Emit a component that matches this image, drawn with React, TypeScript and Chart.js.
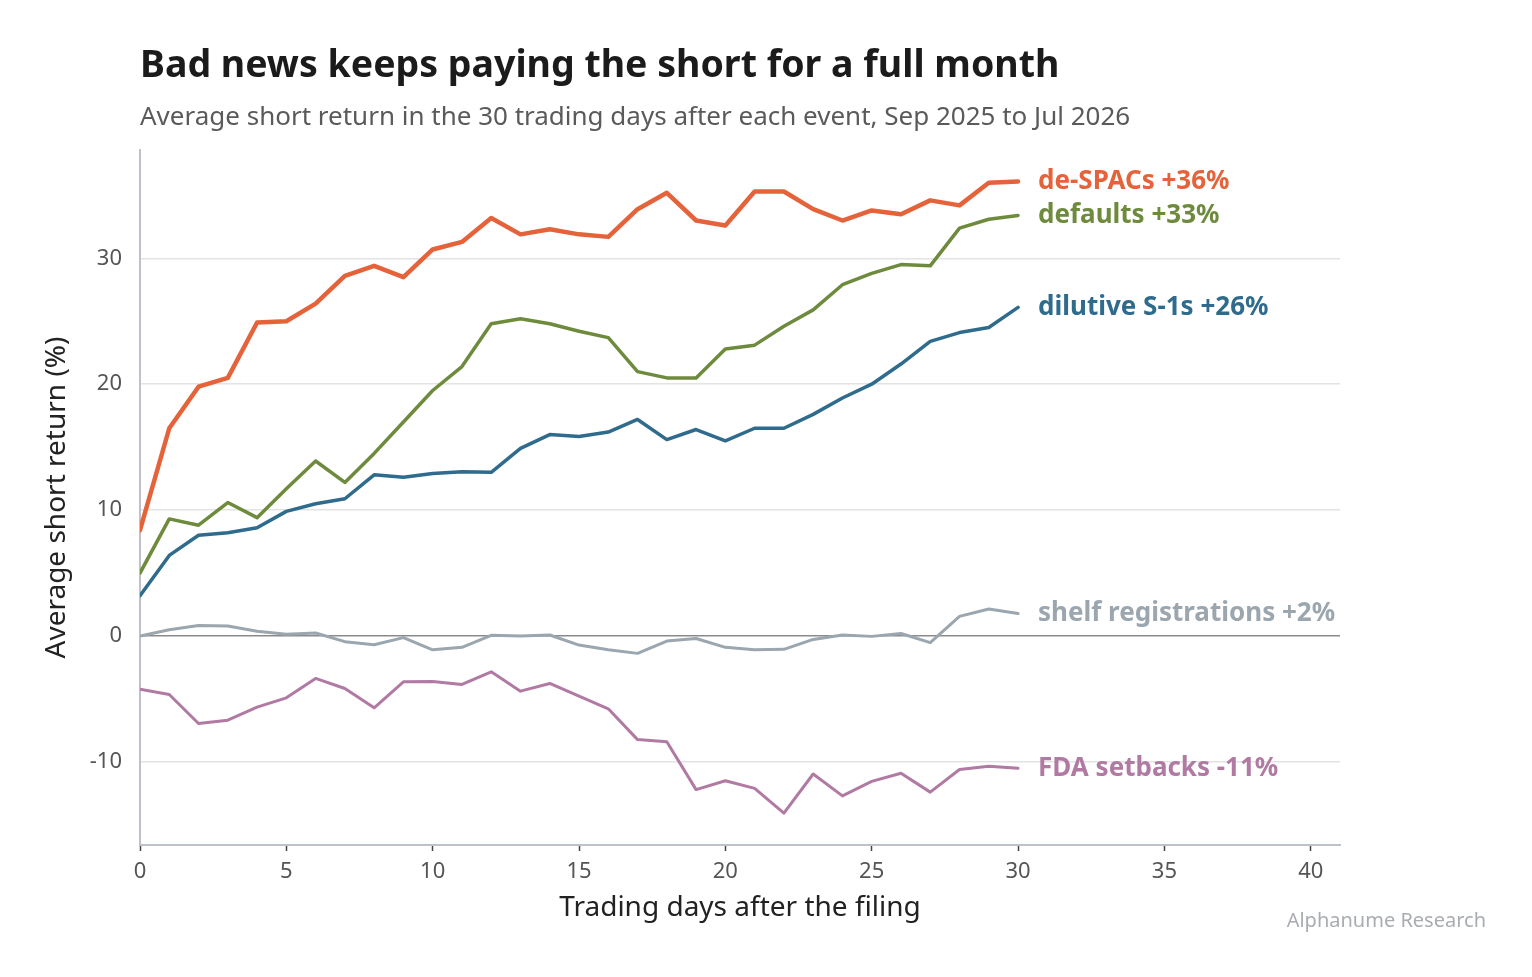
import { useEffect, useRef } from 'react';
import { Chart, registerables } from 'chart.js';

Chart.register(...registerables);

// trading days after the filing
const days = [0, 1, 2, 3, 4, 5, 6, 7, 8, 9, 10, 11, 12, 13, 14, 15, 16, 17, 18, 19, 20, 21, 22, 23, 24, 25, 26, 27, 28, 29, 30];

// average short return (%) per event type
const deSpacs = [8.4, 16.5, 19.8, 20.5, 24.9, 25.0, 26.4, 28.6, 29.4, 28.5, 30.7, 31.3, 33.2, 31.9, 32.3, 31.9, 31.7, 33.9, 35.2, 33.0, 32.6, 35.3, 35.3, 33.9, 33.0, 33.8, 33.5, 34.6, 34.2, 36.0, 36.1];
const defaults = [5.0, 9.3, 8.8, 10.6, 9.4, 11.7, 13.9, 12.2, 14.5, 17.0, 19.5, 21.4, 24.8, 25.2, 24.8, 24.2, 23.7, 21.0, 20.5, 20.5, 22.8, 23.1, 24.6, 25.9, 27.9, 28.8, 29.5, 29.4, 32.4, 33.1, 33.4];
const dilutiveS1s = [3.2, 6.4, 8.0, 8.2, 8.6, 9.9, 10.5, 10.9, 12.8, 12.6, 12.9, 13.05, 13.0, 14.9, 16.0, 15.85, 16.2, 17.2, 15.6, 16.4, 15.5, 16.5, 16.5, 17.6, 18.9, 20.0, 21.6, 23.4, 24.1, 24.5, 26.1];
const shelfRegistrations = [0, 0.5, 0.83, 0.79, 0.37, 0.13, 0.24, -0.45, -0.69, -0.13, -1.1, -0.9, 0.05, 0, 0.08, -0.72, -1.1, -1.38, -0.4, -0.2, -0.9, -1.1, -1.06, -0.27, 0.08, -0.03, 0.2, -0.53, 1.56, 2.15, 1.78];
const fdaSetbacks = [-4.22, -4.65, -6.95, -6.69, -5.65, -4.91, -3.37, -4.17, -5.7, -3.64, -3.61, -3.85, -2.84, -4.38, -3.77, -4.78, -5.78, -8.23, -8.4, -12.2, -11.5, -12.1, -14.07, -10.96, -12.7, -11.55, -10.9, -12.4, -10.6, -10.35, -10.5];

const seriesNames = ['shelf registrations', 'FDA setbacks', 'dilutive S-1s', 'defaults', 'de-SPACs'];
const endLabels = ['shelf registrations +2%', 'FDA setbacks -11%', 'dilutive S-1s +26%', 'defaults +33%', 'de-SPACs +36%'];
const seriesColors = ['#9ba6af', '#b07aa3', '#2f6b8c', '#6e8b3d', '#e5633a'];
const seriesWidths = [3, 3, 3.5, 3.5, 4.5];

const TITLE = 'Bad news keeps paying the short for a full month';
const SUBTITLE = 'Average short return in the 30 trading days after each event, Sep 2025 to Jul 2026';
const SOURCE = 'Alphanume Research';
const FONT = '"Noto Sans", "Open Sans", sans-serif';

const W = 1532;
const H = 977;

export default function App() {
  const chartRef = useRef<HTMLCanvasElement>(null);
  const chartInstance = useRef<Chart | null>(null);

  useEffect(() => {
    document.body.style.margin = '0';
    if (!chartRef.current) return;
    const ctx = chartRef.current.getContext('2d');
    if (!ctx) return;

    if (chartInstance.current) chartInstance.current.destroy();

    const allSeries = [shelfRegistrations, fdaSetbacks, dilutiveS1s, defaults, deSpacs];

    // titles, source and the labels at the end of each line
    const textPlugin = {
      id: 'chartText',
      afterDatasetsDraw(chart: any) {
        const c = chart.ctx;
        const area = chart.chartArea;
        c.save();
        c.textAlign = 'left';
        c.textBaseline = 'alphabetic';
        c.fillStyle = '#1b1b1b';
        c.font = `bold 37.5px ${FONT}`;
        c.fillText(TITLE, area.left, 77);
        c.fillStyle = '#5a5a5a';
        c.font = `26px ${FONT}`;
        c.fillText(SUBTITLE, area.left, 125);

        c.textAlign = 'right';
        c.fillStyle = '#a9adb1';
        c.font = `20px ${FONT}`;
        c.fillText(SOURCE, 1486, 927);

        c.textAlign = 'left';
        c.textBaseline = 'middle';
        c.font = `bold 26px ${FONT}`;
        chart.data.datasets.forEach((ds: any, i: number) => {
          const meta = chart.getDatasetMeta(i);
          const last = meta.data[meta.data.length - 1];
          if (!last) return;
          c.fillStyle = ds.borderColor;
          c.fillText(endLabels[i], last.x + 20, last.y);
        });
        c.restore();
      },
    };

    chartInstance.current = new Chart(ctx, {
      type: 'line',
      data: {
        datasets: allSeries.map((values, i) => ({
          label: seriesNames[i],
          data: values.map((v, j) => ({ x: days[j], y: v })),
          borderColor: seriesColors[i],
          backgroundColor: seriesColors[i],
          borderWidth: seriesWidths[i],
          borderJoinStyle: 'round' as const,
          borderCapStyle: 'round' as const,
          pointRadius: 0,
          tension: 0,
          fill: false,
        })),
      },
      options: {
        responsive: false,
        animation: false,
        layout: { padding: { left: 0, right: 192, top: 150, bottom: 0 } },
        plugins: {
          legend: { display: false },
          tooltip: { enabled: false },
          title: { display: false },
        },
        scales: {
          x: {
            type: 'linear',
            min: 0,
            max: 41,
            afterFit: (s: any) => { s.height = 132; },
            ticks: {
              stepSize: 5,
              includeBounds: false,
              color: '#555555',
              font: { family: FONT, size: 22 },
              padding: 8,
            },
            grid: {
              drawOnChartArea: false,
              drawTicks: true,
              tickLength: 6,
              tickColor: '#444444',
              tickWidth: 1.5,
            },
            border: { color: '#bcc2c7', width: 2 },
            title: {
              display: true,
              text: 'Trading days after the filing',
              color: '#222222',
              font: { family: FONT, size: 28 },
              padding: { top: 0, bottom: 52 },
            },
          },
          y: {
            type: 'linear',
            min: -16.6,
            max: 38.6,
            afterFit: (s: any) => { s.width = 140; },
            ticks: {
              stepSize: 10,
              includeBounds: false,
              color: '#555555',
              font: { family: FONT, size: 22 },
              padding: 18,
            },
            grid: {
              drawTicks: false,
              color: (c: any) => (c.tick && c.tick.value === 0 ? '#8a8a8a' : '#e3e3e3'),
              lineWidth: 1.5,
            },
            border: { color: '#bcc2c7', width: 2 },
            title: {
              display: true,
              text: 'Average short return (%)',
              color: '#222222',
              font: { family: FONT, size: 28 },
              padding: { top: 40, bottom: 0 },
            },
          },
        },
      },
      plugins: [textPlugin],
    });

    return () => {
      if (chartInstance.current) {
        chartInstance.current.destroy();
        chartInstance.current = null;
      }
    };
  }, []);

  return (
    <div style={{ width: W, height: H, background: '#ffffff' }}>
      <canvas ref={chartRef} width={W} height={H} style={{ display: 'block' }} />
    </div>
  );
}
